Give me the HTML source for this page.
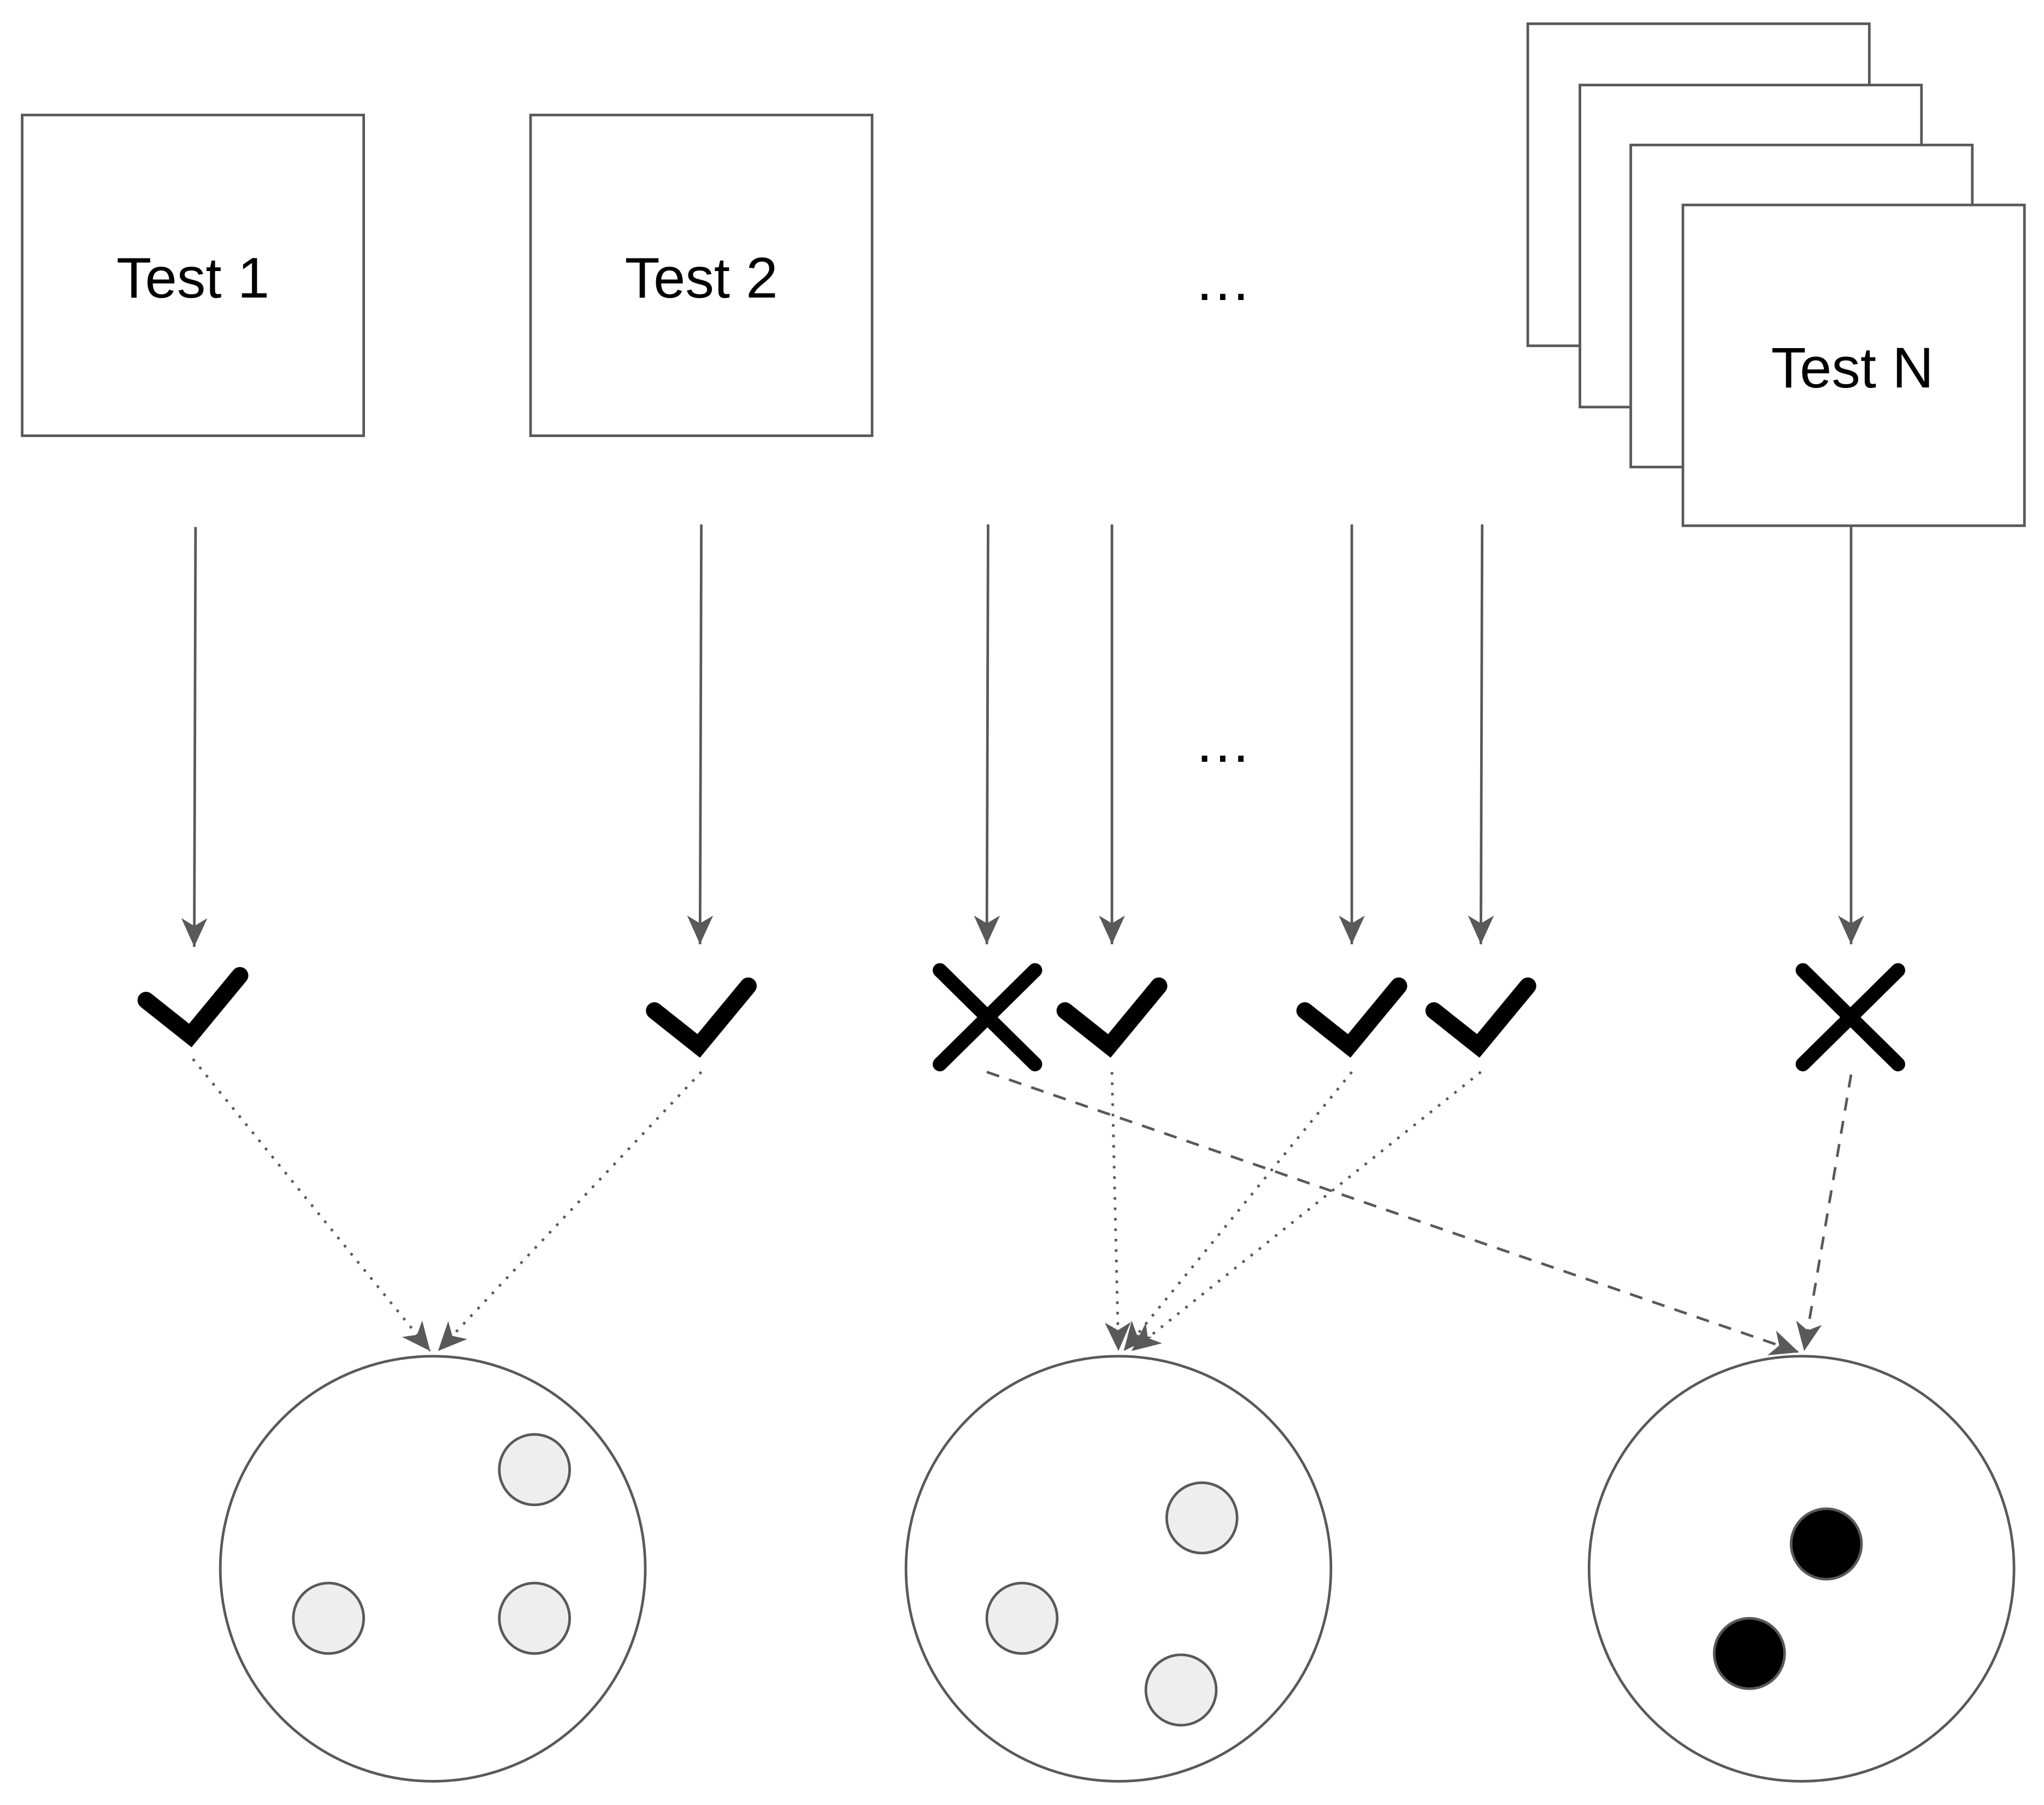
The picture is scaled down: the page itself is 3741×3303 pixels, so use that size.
<!DOCTYPE html>
<html><head><meta charset="utf-8"><style>html,body{margin:0;padding:0;background:#fff}svg{display:block}</style></head>
<body>
<svg width="3741" height="3303" viewBox="0 0 1568 1384" xmlns="http://www.w3.org/2000/svg">
<defs>
<marker id="v" viewBox="0 0 24 20" refX="22" refY="10" markerWidth="24" markerHeight="20" markerUnits="userSpaceOnUse" orient="auto">
<path d="M0,0 L22,10 L0,20 L6,10 Z" fill="#595959"/>
</marker>
</defs>
<g fill="#fff" stroke="#595959" stroke-width="2">
<rect x="17" y="88" width="262" height="246"/>
<rect x="407" y="88" width="262" height="246"/>
<rect x="1172" y="18" width="262" height="247"/>
<rect x="1212" y="65" width="262" height="247"/>
<rect x="1251" y="111" width="262" height="247"/>
<rect x="1291" y="157" width="262" height="246"/>
</g>
<g font-family="Liberation Sans, sans-serif" font-size="44" text-anchor="middle" fill="#000">
<text x="148" y="228">Test 1</text>
<text x="538" y="228">Test 2</text>
<text x="1421" y="297">Test N</text>
<text x="940" y="230" letter-spacing="4">…</text>
<text x="940" y="584" letter-spacing="4">…</text>
</g>
<g stroke="#595959" stroke-width="2" fill="none">
<line x1="150" y1="404" x2="149" y2="726" marker-end="url(#v)"/>
<line x1="538" y1="402" x2="537" y2="724" marker-end="url(#v)"/>
<line x1="758" y1="402" x2="757" y2="724" marker-end="url(#v)"/>
<line x1="853" y1="402" x2="853" y2="724" marker-end="url(#v)"/>
<line x1="1037" y1="402" x2="1037" y2="724" marker-end="url(#v)"/>
<line x1="1137" y1="402" x2="1136" y2="724" marker-end="url(#v)"/>
<line x1="1420" y1="404" x2="1420" y2="724" marker-end="url(#v)"/>
<g stroke-dasharray="2 6">
<line x1="148" y1="812" x2="330" y2="1036" marker-end="url(#v)"/>
<line x1="538" y1="822" x2="336" y2="1036" marker-end="url(#v)"/>
<line x1="853" y1="822" x2="858" y2="1036" marker-end="url(#v)"/>
<line x1="1037" y1="822" x2="862" y2="1036" marker-end="url(#v)"/>
<line x1="1136" y1="822" x2="868" y2="1036" marker-end="url(#v)"/>
</g>
<g stroke-dasharray="10 8">
<line x1="757" y1="822" x2="1380" y2="1037" marker-end="url(#v)"/>
<line x1="1420" y1="824" x2="1384" y2="1036" marker-end="url(#v)"/>
</g>
</g>
<g stroke="#000" stroke-width="13" fill="none" stroke-linecap="round" stroke-linejoin="miter">
<polyline points="112,767 146,794 184,748"/>
<polyline points="502,775 536,802 574,756"/>
<polyline points="817,775 851,802 889,756"/>
<polyline points="1001,775 1035,802 1073,756"/>
<polyline points="1100,775 1134,802 1172,756"/>
</g>
<g stroke="#000" stroke-width="11" fill="none" stroke-linecap="round">
<path d="M721,744 L794,816 M794,744 L721,816"/>
<path d="M1383,744 L1456,816 M1456,744 L1383,816"/>
</g>
<g stroke="#595959" stroke-width="2">
<circle cx="332" cy="1203" r="163" fill="#fff"/>
<circle cx="858" cy="1203" r="163" fill="#fff"/>
<circle cx="1382" cy="1203" r="163" fill="#fff"/>
<g fill="#eeeeee">
<circle cx="410" cy="1127" r="27"/><circle cx="252" cy="1241" r="27"/><circle cx="410" cy="1241" r="27"/>
<circle cx="922" cy="1164" r="27"/><circle cx="784" cy="1241" r="27"/><circle cx="906" cy="1296" r="27"/>
</g>
<g fill="#000">
<circle cx="1401" cy="1184" r="27"/><circle cx="1342" cy="1268" r="27"/>
</g>
</g>
</svg>
</body></html>
